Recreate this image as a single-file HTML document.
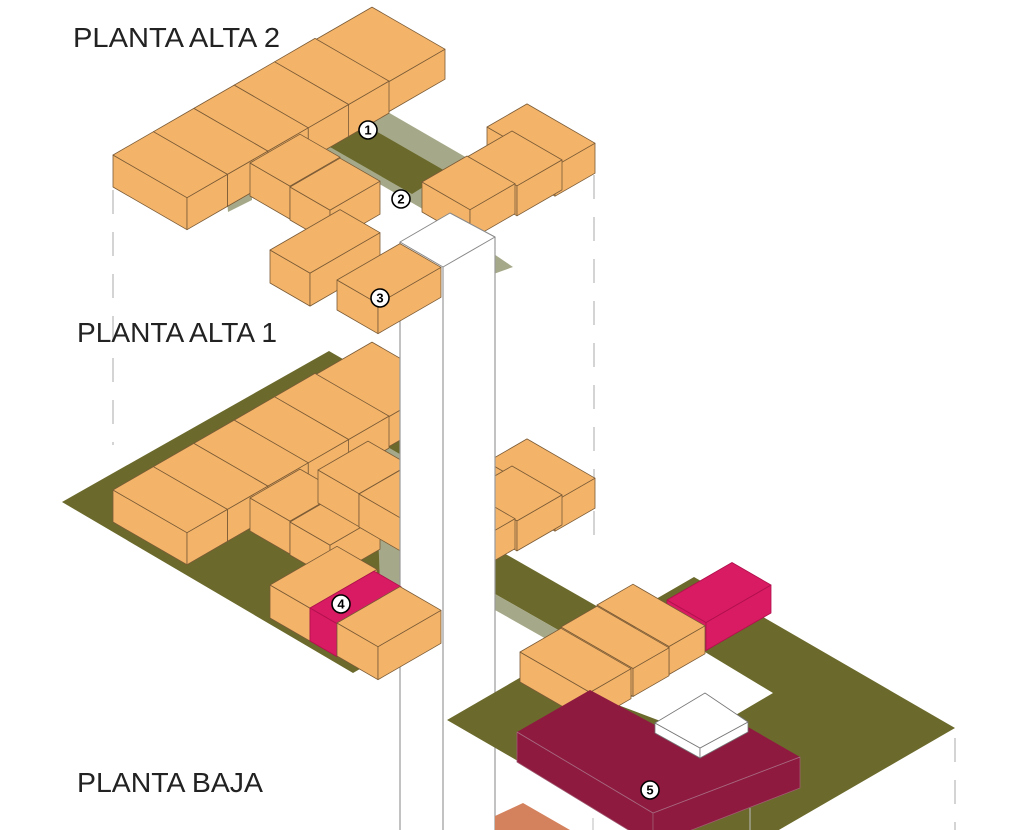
<!DOCTYPE html>
<html><head><meta charset="utf-8"><style>
html,body{margin:0;padding:0;background:#fff;width:1020px;height:830px;overflow:hidden}
svg{display:block}
text{font-family:"Liberation Sans",sans-serif}
</style></head><body>
<svg id="s" width="1020" height="830" viewBox="0 0 1020 830" xmlns="http://www.w3.org/2000/svg">
<g id="g"></g>
</svg>
<script>
var g=document.getElementById('g');var out='';
var K=0.577;
function poly(pts,fill,stroke,sw){out+='<polygon points="'+pts.map(function(p){return p[0].toFixed(1)+','+p[1].toFixed(1)}).join(' ')+'" fill="'+fill+'"'+(stroke?' stroke="'+stroke+'" stroke-width="'+(sw||0.8)+'" stroke-linejoin="round"':'')+'/>';}
function line(x1,y1,x2,y2,c,w,d){out+='<line x1="'+x1+'" y1="'+y1+'" x2="'+x2+'" y2="'+y2+'" stroke="'+c+'" stroke-width="'+w+'"'+(d?' stroke-dasharray="'+d+'"':'')+'/>';}
var OR='#f3b46a',ST='#7a5a35';
function box(Lx,Ly,a,b,h,fill,st){
 st=st||ST;
 var P0=[Lx,Ly],P1=[Lx+b,Ly-b*K],P2=[Lx+a+b,Ly+a*K-b*K],P3=[Lx+a,Ly+a*K];
 function d(p){return [p[0],p[1]+h];}
 poly([P0,P3,d(P3),d(P0)],fill,st);
 poly([P3,P2,d(P2),d(P3)],fill,st);
 poly([P0,P1,P2,P3],fill,st);
}
line(113,190,113,445,'#d4d4d4',2,'24 18');
line(594,175,594,545,'#d4d4d4',2,'24 18');
line(955,738,955,830,'#d4d4d4',2,'24 18');

function level(dy){
 box(315,40+dy,73,57,30,OR);
 var bw=40.4;
 for(var k=4;k>=0;k--){box(113+bw*k,155+dy-bw*k*K,74,bw,32,OR);}
 box(487,127+dy,68,40,30,OR);
 box(467,157+dy,50,45,30,OR);
 box(422,182+dy,48,45,30,OR);
 box(250,163+dy,40,50,33,OR);
 box(290,187+dy,40,50,33,OR);
}
// PA2 floor
poly([[300,138],[367,100],[507,181],[440,219]],'#a6a989');
poly([[225,172],[252,158],[252,200],[228,212]],'#a6a989');
poly([[330,147],[367,126],[447,172],[412,194]],'#6b6a2c');
poly([[488,250],[513,267],[488,276]],'#a6a989');
level(0);
box(270,250,40,70,33,OR);

// PA1 floor
poly([[62,502],[329,351],[495,447],[495,591],[353,673]],'#6b6a2c');
poly([[495,548],[600,608],[560,631],[495,594]],'#6b6a2c');
poly([[495,594],[560,631],[548,640],[495,610]],'#a6a989');
poly([[300,473],[367,435],[507,516],[440,554]],'#a6a989');
poly([[378,530],[400,518],[400,595],[380,585]],'#a6a989');
level(335);
box(318,470,41,50,33,OR);
box(359,494,41,45,33,OR);

// column
out+='<rect x="400" y="240" width="95" height="600" fill="#fff"/>';
line(400,242,400,830,'#999',1.2);line(443,267,443,830,'#999',1.2);line(495,237,495,830,'#999',1.2);
poly([[400,242],[450,213],[495,237],[443,267]],'#fff','#888',1);

box(337,280,41,63,30,OR);
box(270,585,40,67,33,OR);
box(310,608,27,64,33,'#d81b62','#b0104d');
box(337,623,41,63,33,OR);

// PB
poly([[447,720],[694,577],[955,728],[708,871]],'#6b6a2c');
poly([[618,705],[705,652],[773,693],[700,736]],'#fff');
box(667,600,39,65,28,'#d81b62','#b0104d');
box(597,605,72,36,28,OR);
box(561,627,72,36,28,OR);
box(520,652,70,41,30,OR);
poly([[517,732],[653,813],[653,845],[517,762]],'#8e1a40','#a05a70',0.8);
poly([[653,813],[800,757],[800,788],[653,845]],'#8e1a40','#a05a70',0.8);
poly([[517,732],[590,690],[655,725],[700,750],[748,727],[800,757],[653,813]],'#8e1a40');
line(517,732,653,813,'#a86a80',0.8);line(653,813,800,757,'#a86a80',0.8);
poly([[655,723],[700,748],[700,758],[655,733]],'#fff','#777',0.8);
poly([[700,748],[748,722],[748,732],[700,758]],'#fff','#777',0.8);
poly([[655,723],[705,693],[748,722],[700,748]],'#fff','#777',0.8);
line(593,818,593,830,'#bbb',1);line(750,808,750,830,'#bbb',1);
poly([[495,816],[523,803],[570,830],[495,830]],'#d4825e');

function lab(x,y,n){out+='<circle cx="'+x+'" cy="'+y+'" r="9" fill="#fff" stroke="#000" stroke-width="1.6"/><text x="'+x+'" y="'+(y+4.5)+'" font-size="13" font-weight="bold" text-anchor="middle" fill="#000">'+n+'</text>';}
lab(368,130,1);lab(401,199,2);lab(380,298,3);lab(341,604,4);lab(650,790,5);
out+='<text x="73" y="47" font-size="28" fill="#222" textLength="207" lengthAdjust="spacingAndGlyphs">PLANTA ALTA 2</text>';
out+='<text x="77" y="342" font-size="28" fill="#222" textLength="200" lengthAdjust="spacingAndGlyphs">PLANTA ALTA 1</text>';
out+='<text x="77" y="792" font-size="28" fill="#222" textLength="186" lengthAdjust="spacingAndGlyphs">PLANTA BAJA</text>';
g.innerHTML=out;
</script>
</body></html>
